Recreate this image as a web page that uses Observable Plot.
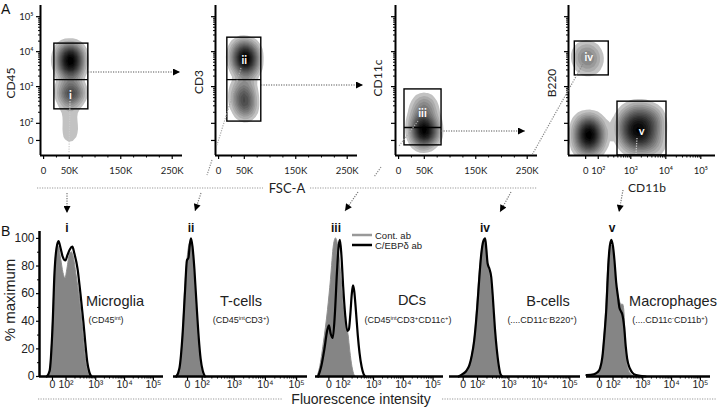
<!DOCTYPE html>
<html><head><meta charset="utf-8">
<script src="https://cdn.jsdelivr.net/npm/d3@7"></script>
<script src="https://cdn.jsdelivr.net/npm/@observablehq/plot@0.6"></script>
<style>
body{margin:0;background:#fff}
#fig{position:relative;width:720px;height:410px;overflow:hidden;background:#fff}
#fig svg{position:absolute;overflow:visible}
</style></head><body><div id="fig"></div>
<script>
// ================= DATA =================
// ---- Panel A: axes ----
const fscTicks = [0, 50000, 150000, 250000];
const fscTickLabels = ["0", "50K", "150K", "250K"];
const fscMinorTicks = [25000, 75000, 100000, 125000, 175000, 200000, 225000];
const logTickLabels = ["0", "10²", "10³", "10⁴", "10⁵"];
const logTicksTopY = [0, 0.49, 1.54, 2.54, 3.54];     // logicle display units
const logTicksCD11b = [0, 0.36, 1.29, 2.29, 3.29];
const logTicksHist = [0, 0.47, 1.5, 2.5, 3.5];
const pctTicks = [0, 20, 40, 60, 80, 100];
const pctMinorTicks = [10, 30, 50, 70, 90];

// ---- Panel A: event clusters [FSC or CD11b, marker, weight] ----
const cd45Events = [
  [42e3,2.5,5],[52e3,2.52,6],[62e3,2.45,5],[42e3,2.2,6],[52e3,2.22,6.5],[62e3,2.15,5],[46e3,1.95,3.5],[58e3,1.95,3],
  [42e3,1.45,3.6],[54e3,1.45,4.2],[65e3,1.4,3.4],[46e3,1.2,3.2],[58e3,1.2,3.2],
  [50e3,0.8,1.2],[52e3,0.52,1.5],[52e3,0.24,1.4],[50e3,-0.02,0.9]
];
const cd3Events = [
  [42e3,2.58,5],[52e3,2.62,5],[62e3,2.52,4],[42e3,2.28,6],[52e3,2.32,6.5],[62e3,2.22,5],[48e3,2.0,4],[58e3,2.0,3],
  [42e3,1.45,3.6],[54e3,1.45,3.6],[44e3,1.15,4.4],[54e3,1.12,4.4],[48e3,0.86,3],[56e3,0.86,2.4]
];
const cd11cEvents = [
  [45e3,1.1,2],[55e3,1.05,2],[40e3,0.82,3],[58e3,0.8,3],
  [38e3,0.47,4.5],[50e3,0.47,5.5],[62e3,0.42,4],[40e3,0.17,6],[52e3,0.17,6.5],[62e3,0.17,4],[48e3,-0.04,3]
];
const b220Events = [
  [-0.05,2.5,2.2],[0.12,2.45,2.2],[0.0,2.2,2],[0.15,2.2,1.6],
  [0.02,0.45,3.5],[0.15,0.45,3.5],[-0.02,0.15,5],[0.12,0.15,5.5],[0.24,0.15,4],[0.02,-0.15,3.5],[0.15,-0.15,3.5],
  [1.3,0.75,3],[1.6,0.8,3],[1.9,0.7,2.5],[1.2,0.45,5],[1.5,0.45,7],[1.85,0.45,5],
  [1.25,0.1,5],[1.55,0.1,7],[1.85,0.1,4],[1.4,-0.2,2],[1.75,-0.2,2],[2.05,-0.2,1]
];

// ---- Panel A: gates ----
const cd45Gates = [{x1: 21e3, x2: 87e3, y1: 0.89, y2: 2.77, mid: 1.74}];
const cd3Gates = [{x1: 17e3, x2: 83e3, y1: 0.54, y2: 2.94, mid: 1.74}];
const cd11cGates = [{x1: 11.5e3, x2: 83.5e3, y1: -0.14, y2: 1.46, mid: 0.37}];
const b220Gates = [{x1: -0.31, x2: 0.66, y1: 1.86, y2: 2.83}, {x1: 0.91, x2: 2.31, y1: -0.43, y2: 1.11}];
const cd45GateNames = [{x: 52e3, y: 1.29, t: "i"}];
const cd3GateNames = [{x: 50e3, y: 2.29, t: "ii"}];
const cd11cGateNames = [{x: 46.5e3, y: 0.77, t: "iii"}];
const b220GateNames = [{x: 0.09, y: 2.37, t: "iv"}, {x: 1.6, y: 0.26, t: "v"}];

// ---- Panel B: histograms [fluorescence (logicle units), % maximum] ----
const microgliaCont = [[-0.18,0],[-0.08,5],[0.02,40],[0.1,80],[0.17,93],[0.22,94],[0.3,85],[0.38,75],[0.45,71],[0.52,78],[0.6,88],[0.67,90],[0.74,86],[0.83,74],[0.95,56],[1.05,36],[1.12,20],[1.2,7],[1.27,2],[1.33,0]];
const microgliaCebp = [[-0.2,0],[-0.1,4],[0.0,35],[0.07,75],[0.14,93],[0.21,98],[0.28,93],[0.35,87],[0.45,84],[0.52,88],[0.6,92],[0.69,94],[0.76,89],[0.87,78],[0.97,60],[1.07,40],[1.14,24],[1.21,10],[1.28,3],[1.35,0]];
const tcellCont = [[-0.33,0],[-0.24,6],[-0.15,30],[-0.07,65],[0.0,85],[0.06,95],[0.11,97],[0.17,90],[0.23,72],[0.3,45],[0.37,22],[0.44,8],[0.51,0]];
const tcellCebp = [[-0.36,0],[-0.26,6],[-0.16,30],[-0.08,62],[-0.02,84],[0.03,86],[0.07,95],[0.11,100],[0.16,94],[0.22,78],[0.29,52],[0.36,28],[0.42,13],[0.49,4],[0.56,0]];
const dcCont = [[-0.38,0],[-0.3,6],[-0.17,24],[-0.03,48],[0.07,70],[0.17,95],[0.24,100],[0.3,96],[0.37,84],[0.44,66],[0.51,48],[0.6,36],[0.66,30],[0.72,18],[0.79,7],[0.86,1],[0.9,0]];
const dcCebp = [[-0.36,0],[-0.26,7],[-0.15,20],[-0.06,33],[0.0,37],[0.06,31],[0.13,28],[0.2,45],[0.27,75],[0.33,95],[0.37,99],[0.42,88],[0.48,65],[0.55,44],[0.62,33],[0.67,34],[0.72,45],[0.77,60],[0.81,66],[0.85,62],[0.91,47],[0.97,30],[1.03,17],[1.1,7],[1.16,2],[1.22,0]];
const bcellCont = [[-0.12,0],[0.05,2],[0.2,7],[0.3,16],[0.38,28],[0.46,50],[0.53,72],[0.6,88],[0.66,96],[0.71,98],[0.76,92],[0.82,80],[0.88,74],[0.94,62],[1.0,45],[1.06,28],[1.12,14],[1.18,5],[1.24,0]];
const bcellCebp = [[-0.15,0],[0.0,2],[0.1,4],[0.2,8],[0.28,15],[0.36,26],[0.46,50],[0.53,72],[0.59,88],[0.66,98],[0.72,100],[0.76,92],[0.8,82],[0.86,78],[0.92,72],[0.98,55],[1.04,35],[1.1,20],[1.16,9],[1.22,2],[1.28,0]];
const macroCont = [[-0.3,0],[-0.1,1],[0.02,4],[0.1,12],[0.17,28],[0.24,52],[0.3,78],[0.35,90],[0.41,95],[0.47,92],[0.52,82],[0.58,70],[0.64,60],[0.7,55],[0.76,52],[0.82,52],[0.86,48],[0.9,30],[0.94,14],[1.0,6],[1.08,2],[1.2,0]];
const macroCebp = [[-0.45,1],[-0.2,1.5],[-0.07,3],[0.02,6],[0.1,14],[0.17,30],[0.24,50],[0.3,78],[0.34,91],[0.41,99],[0.47,94],[0.52,84],[0.58,68],[0.64,58],[0.69,50],[0.75,47],[0.79,45],[0.86,35],[0.91,22],[0.96,13],[1.05,6],[1.13,3],[1.27,1],[1.6,0]];

// ================= RENDER =================
const fig = document.getElementById("fig");
const topFont = "Lato, 'Open Sans', sans-serif";
const armFont = "'Liberation Sans', Arial, sans-serif";
const fscLabelMap = new Map(fscTicks.map((t, i) => [t, fscTickLabels[i]]));
const mapLabels = ticks => new Map(ticks.map((t, i) => [t, logTickLabels[i]]));
function logMinor(ticks) {
  const out = [];
  for (let i = 1; i < ticks.length - 1; i++)
    for (let k = 2; k <= 9; k++) out.push(ticks[i] + Math.log10(k) * (ticks[i + 1] - ticks[i]));
  return out;
}
function place(svg, left, top) {
  svg.style.left = left + "px"; svg.style.top = top + "px";
  fig.appendChild(svg);
}
const topYDomain = [-0.43, 3.86];
function topPanel(c) {
  const ml = 40, mr = 12, mt = 5, mb = 30, fh = 150;
  const yMap = mapLabels(logTicksTopY);
  const svg = Plot.plot({
    width: ml + c.width + mr, height: mt + fh + mb,
    marginLeft: ml, marginRight: mr, marginTop: mt, marginBottom: mb,
    x: {domain: c.xDomain}, y: {domain: topYDomain},
    color: {type: "pow", exponent: 0.7, range: ["#e4e4e4", "#000000"]},
    style: {fontFamily: topFont, fontSize: "9.5px", color: "#222", background: "transparent", overflow: "visible"},
    marks: [
      Plot.density(c.events, {x: d => d[0], y: d => d[1], weight: d => d[2], bandwidth: c.bw, thresholds: 16, fill: "density", clip: true}),
      Plot.rect(c.gates, {x1: "x1", x2: "x2", y1: "y1", y2: "y2", stroke: "#000", strokeWidth: 1.4, fill: "none"}),
      Plot.ruleY(c.gates.filter(g => g.mid != null), {x1: "x1", x2: "x2", y: "mid", stroke: "#000", strokeWidth: 1.4}),
      Plot.text(c.names, {x: "x", y: "y", text: "t", fill: "#fff", fontSize: 11, fontWeight: "bold"}),
      Plot.ruleX([c.xDomain[0]], {stroke: "#000", strokeWidth: 2}),
      Plot.ruleY([topYDomain[0]], {stroke: "#000", strokeWidth: 2}),
      Plot.axisX({ticks: c.xTicks, tickFormat: d => c.xMap.get(d), tickSize: 4, tickPadding: 8, stroke: "#000", strokeWidth: 1.2, label: null}),
      Plot.axisX({ticks: c.xMinor, tickFormat: () => "", tickSize: 2.5, stroke: "#000", label: null}),
      Plot.axisY({ticks: logTicksTopY, tickFormat: c.showY ? (d => yMap.get(d)) : (() => ""), tickSize: 4, tickPadding: 3, stroke: "#000", strokeWidth: 1.2, label: null}),
      Plot.axisY({ticks: logMinor(logTicksTopY), tickFormat: () => "", tickSize: 2, stroke: "#000", label: null})
    ]
  });
  place(svg, c.left - ml, 5 - mt);
}
const fscDomain = [-6000, 270000];
topPanel({left: 40, width: 142, xDomain: fscDomain, xTicks: fscTicks, xMap: fscLabelMap, xMinor: fscMinorTicks, showY: true, events: cd45Events, gates: cd45Gates, names: cd45GateNames, bw: 5});
topPanel({left: 215, width: 142, xDomain: fscDomain, xTicks: fscTicks, xMap: fscLabelMap, xMinor: fscMinorTicks, showY: false, events: cd3Events, gates: cd3Gates, names: cd3GateNames, bw: 5});
topPanel({left: 395, width: 142, xDomain: fscDomain, xTicks: fscTicks, xMap: fscLabelMap, xMinor: fscMinorTicks, showY: false, events: cd11cEvents, gates: cd11cGates, names: cd11cGateNames, bw: 5});
topPanel({left: 568, width: 147, xDomain: [-0.49, 3.71], xTicks: logTicksCD11b, xMap: mapLabels(logTicksCD11b), xMinor: logMinor(logTicksCD11b), showY: false, events: b220Events, gates: b220Gates, names: b220GateNames, bw: 6});

const histXDomain = [-0.45, 3.85];
const histMap = mapLabels(logTicksHist);
function histPanel(c) {
  const ml = 40, mr = 8, mt = 10, mb = 26, fh = 145;
  const marks = [
    Plot.areaY(c.cont, {x: d => d[0], y: d => d[1], fill: "#858585", stroke: "#8f8f8f", strokeWidth: 1, curve: "monotone-x"}),
    Plot.lineY(c.cebp, {x: d => d[0], y: d => d[1], stroke: "#000", strokeWidth: 2.2, curve: "monotone-x"}),
    Plot.ruleY([0], {stroke: "#000", strokeWidth: 2.5}),
    Plot.axisX({ticks: logTicksHist, tickFormat: d => histMap.get(d), tickSize: 4, tickPadding: 0, fontSize: 10.5, stroke: "#000", strokeWidth: 1.2, label: null}),
    Plot.axisX({ticks: logMinor(logTicksHist), tickFormat: () => "", tickSize: 2.5, stroke: "#000", label: null})
  ];
  if (c.showY) marks.push(
    Plot.ruleX([histXDomain[0]], {stroke: "#000", strokeWidth: 2.5}),
    Plot.axisY({ticks: pctTicks, tickSize: 3, tickPadding: 2, fontSize: 12, stroke: "#000", strokeWidth: 1.2, label: null}),
    Plot.axisY({ticks: pctMinorTicks, tickFormat: () => "", tickSize: 2, stroke: "#000", label: null})
  );
  const svg = Plot.plot({
    width: ml + c.width + mr, height: mt + fh + mb,
    marginLeft: ml, marginRight: mr, marginTop: mt, marginBottom: mb,
    x: {domain: histXDomain}, y: {domain: [0, 105], axis: c.showY ? undefined : null},
    style: {fontFamily: armFont, color: "#222", background: "transparent", overflow: "visible"},
    marks
  });
  place(svg, c.left - ml, 231 - mt);
}
histPanel({left: 39, width: 124, cont: microgliaCont, cebp: microgliaCebp, showY: true});
histPanel({left: 173, width: 134, cont: tcellCont, cebp: tcellCebp});
histPanel({left: 315, width: 128, cont: dcCont, cebp: dcCebp});
histPanel({left: 449, width: 131, cont: bcellCont, cebp: bcellCebp});
histPanel({left: 586, width: 124, cont: macroCont, cebp: macroCebp});

// ================= ANNOTATION OVERLAY =================
const ov = d3.select(fig).append("svg").attr("width", 720).attr("height", 410).style("left", "0px").style("top", "0px");
ov.append("defs").append("marker").attr("id", "ah").attr("viewBox", "0 0 10 10")
  .attr("refX", 10).attr("refY", 5).attr("markerWidth", 8).attr("markerHeight", 7)
  .attr("markerUnits", "userSpaceOnUse").attr("orient", "auto")
  .append("path").attr("d", "M0,0L10,5L0,10Z").attr("fill", "#000");
const connectors = [
  {p: [[88,72],[180,72]], a: 1, c: "#555"},
  {p: [[261,85],[363,85]], a: 1, c: "#555"},
  {p: [[441,131],[525,131]], a: 1, c: "#555"},
  {p: [[70,101],[69,153]], c: "#ccc"},
  {p: [[67,193],[67,213]], a: 1, c: "#777"},
  {p: [[241,68],[217,145]], c: "#aaa"},
  {p: [[212,160],[207,175]], c: "#888"},
  {p: [[201,193],[195,211]], a: 1, c: "#777"},
  {p: [[418,121],[399,146]], c: "#aaa"},
  {p: [[381,167],[374,177]], c: "#888"},
  {p: [[358,192],[345,211]], a: 1, c: "#777"},
  {p: [[583,64],[532,155]], c: "#888"},
  {p: [[511,192],[500,212]], a: 1, c: "#777"},
  {p: [[637,138],[636,154]], c: "#ccc"},
  {p: [[623,190],[619,212]], a: 1, c: "#777"},
  {p: [[37,188],[263,188]], c: "#999"},
  {p: [[310,188],[537,188]], c: "#999"},
  {p: [[38,399],[283,399]], c: "#999"},
  {p: [[442,399],[717,399]], c: "#999"}
];
connectors.forEach(k => {
  const l = ov.append("line").attr("x1", k.p[0][0]).attr("y1", k.p[0][1]).attr("x2", k.p[1][0]).attr("y2", k.p[1][1])
    .attr("stroke", k.c).attr("stroke-width", 1.2).attr("stroke-dasharray", "1.2 1.3");
  if (k.a) l.attr("marker-end", "url(#ah)");
});
function txt(x, y, s, o = {}) {
  const t = ov.append("text").attr("x", x).attr("y", y).attr("font-family", o.f || armFont)
    .attr("font-size", o.s || 12).attr("fill", o.c || "#222").attr("text-anchor", o.a || "middle");
  if (o.w) t.attr("font-weight", o.w);
  if (o.r) t.attr("transform", `rotate(-90 ${x} ${y})`);
  (Array.isArray(s) ? s : [[s]]).forEach(([str, sup]) => {
    const sp = t.append("tspan").text(str);
    if (sup) sp.attr("font-size", (o.s || 12) * 0.65).attr("baseline-shift", "super");
  });
  return t;
}
// panel letters
txt(1, 14, "A", {s: 14, a: "start", c: "#111"});
txt(1, 236, "B", {s: 14, a: "start", c: "#111"});
// top axis titles
txt(15, 83, "CD45", {f: topFont, s: 12, r: 1});
txt(203, 82, "CD3", {f: topFont, s: 12, r: 1});
txt(382, 78, "CD11c", {f: topFont, s: 12, r: 1});
txt(556, 83, "B220", {f: topFont, s: 12, r: 1});
txt(647, 192, "CD11b", {f: topFont, s: 12});
txt(287, 193, "FSC-A", {f: topFont, s: 13});
// bottom axis titles
txt(15, 300, "% maximum", {s: 15, r: 1});
txt(361, 404, "Fluorescence intensity", {s: 14});
// roman numerals
[["i",67],["ii",191],["iii",336],["iv",485],["v",612]].forEach(([s, x]) => txt(x, 232, s, {s: 12, w: "bold", c: "#111"}));
// cell population labels
txt(115, 306, "Microglia", {s: 14.5});
txt(106, 323, [["(CD45"],["int",1],[")"]], {s: 9});
txt(241, 306, "T-cells", {s: 14.5});
txt(241, 323, [["(CD45"],["int",1],["CD3"],["+",1],[")"]], {s: 9});
txt(412, 305, "DCs", {s: 14.5});
txt(408, 323, [["(CD45"],["int",1],["CD3"],["+",1],["CD11c"],["+",1],[")"]], {s: 9});
txt(548, 306, "B-cells", {s: 14.5});
txt(542, 323, [["(....CD11c"],["-",1],["B220"],["+",1],[")"]], {s: 9});
txt(673, 306, "Macrophages", {s: 14.5});
txt(670, 323, [["(....CD11c"],["-",1],["CD11b"],["+",1],[")"]], {s: 9});
// legend
ov.append("line").attr("x1", 352).attr("x2", 372).attr("y1", 235).attr("y2", 235).attr("stroke", "#999").attr("stroke-width", 2.5);
ov.append("line").attr("x1", 352).attr("x2", 372).attr("y1", 245).attr("y2", 245).attr("stroke", "#000").attr("stroke-width", 2.5);
txt(375, 238.5, "Cont. ab", {s: 9.5, a: "start"});
txt(375, 248.5, "C/EBPδ ab", {s: 9.5, a: "start"});
</script>
</body></html>
